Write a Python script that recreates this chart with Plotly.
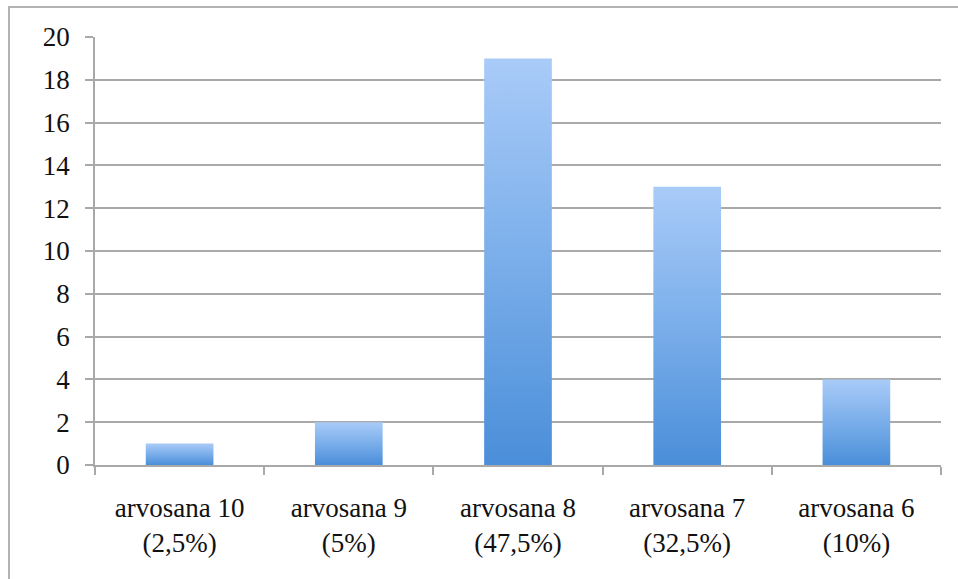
import plotly.graph_objects as go

# Grade distribution: count of students per grade
categories = ["arvosana 10", "arvosana 9", "arvosana 8", "arvosana 7", "arvosana 6"]
shares = ["(2,5%)", "(5%)", "(47,5%)", "(32,5%)", "(10%)"]
counts = [1, 2, 19, 13, 4]
y_ticks = [0, 2, 4, 6, 8, 10, 12, 14, 16, 18, 20]

GRID = "#a9a9a9"
FONT = "Liberation Serif"
BAR_HALF = 0.2

fig = go.Figure()

# Each bar is a filled rectangle with its own vertical gradient (dark bottom, light top)
for i, v in enumerate(counts):
    fig.add_trace(go.Scatter(
        x=[i - BAR_HALF, i + BAR_HALF, i + BAR_HALF, i - BAR_HALF, i - BAR_HALF],
        y=[0, 0, v, v, 0],
        mode="lines",
        line=dict(width=0),
        fill="toself",
        fillgradient=dict(
            type="vertical",
            colorscale=[[0, "#4a8ed9"], [0.5, "#7aaeea"], [1, "#a9cbf8"]],
        ),
        hoverinfo="skip",
        showlegend=False,
    ))

fig.update_layout(
    width=958,
    height=579,
    margin=dict(l=95, r=17, t=37, b=114),
    paper_bgcolor="white",
    plot_bgcolor="white",
    font=dict(family=FONT, size=27, color="#111111"),
    xaxis=dict(
        range=[-0.5, 4.5],
        tickvals=list(range(len(categories))),
        ticktext=[f"{c}<br>{s}" for c, s in zip(categories, shares)],
        ticks="",
        showgrid=False,
        zeroline=False,
        showline=True,
        linecolor=GRID,
        linewidth=1.6,
        ticklabelstandoff=18,
        minor=dict(
            tickvals=[k - 0.5 for k in range(len(categories) + 1)],
            ticks="outside",
            ticklen=8,
            tickwidth=1.6,
            tickcolor=GRID,
            showgrid=False,
        ),
        fixedrange=True,
    ),
    yaxis=dict(
        range=[0, 20],
        tickvals=y_ticks,
        ticks="outside",
        ticklen=8,
        tickwidth=1.6,
        tickcolor=GRID,
        showgrid=True,
        gridcolor=GRID,
        gridwidth=1.6,
        zeroline=False,
        showline=True,
        linecolor=GRID,
        linewidth=1.6,
        ticklabelstandoff=10,
        fixedrange=True,
    ),
    shapes=[
        # outer chart frame
        dict(
            type="rect", xref="paper", yref="paper",
            x0=(9 - 95) / 846, x1=1.1,
            y0=-0.3, y1=1 + (37 - 7) / 428,
            line=dict(color="#b3b3b3", width=2),
            fillcolor="rgba(0,0,0,0)",
            layer="below",
        )
    ],
)

fig.write_html("out.html")
